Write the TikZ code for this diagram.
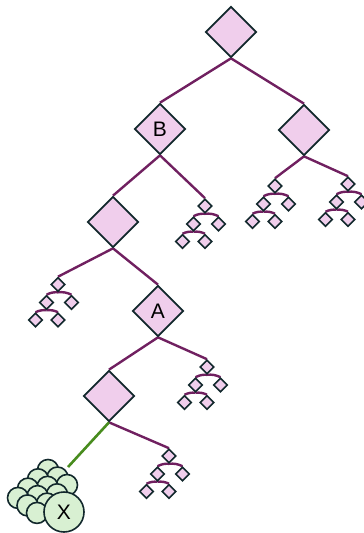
\documentclass[tikz,border=0pt]{standalone}
\usepackage{fontspec}
\setmainfont{Liberation Sans}
\usetikzlibrary{shapes.geometric,backgrounds}
\definecolor{branch}{RGB}{112,32,96}
\definecolor{petal}{RGB}{240,206,236}
\definecolor{rim}{RGB}{18,40,44}
\definecolor{stemgreen}{RGB}{72,140,30}
\definecolor{mint}{RGB}{216,240,210}

\begin{document}
\begin{tikzpicture}[x=1pt,y=-1pt,
			big/.style={diamond,draw=rim,fill=petal,line width=1.7pt,minimum size=51pt,inner sep=0pt,
				font=\fontsize{21}{21}\selectfont},
			leaf/.style={diamond,draw=rim,fill=petal,line width=1.6pt,minimum size=14pt,inner sep=0pt},
			link/.style={draw=branch,line width=2.4pt},
			stem/.style={draw=stemgreen,line width=2.6pt},
			cell/.style={circle,draw=rim,fill=mint,line width=1.6pt,minimum size=21pt,inner sep=0pt}
			]
		\useasboundingbox (0,0) rectangle (364,533);
		%\draw[step=10pt, color=gray] (0,0) grid (364,533);
		\node [big] (root) at (231,32) {};
		\node [big] (b) at (160,129) {B};
		\node [big] (r) at (304,130) {};
		\node [big] (c) at (113,222) {};
		\node [big] (a) at (158,311) {A};
		\node [big] (d) at (109,396) {};

		\begin{scope}[on background layer]
			\draw [link] (root.south) -- (b.north);
			\draw [link] (root.south) -- (r.north);
			\draw [link] (b.south) -- (c.north);
			\draw [link] (c.south) -- (a.north);
			\draw [link] (a.south) -- (d.north);
		\end{scope}

		% small subtrees
		\foreach \n/\x/\y/\p in {sb/205/206/b, sr1/275/186/r, sr2/348/184/r,
				sc/58/284.5/c, sa/207/367/a, sd/169/456/d} {
			\begin{scope}[shift={(\x,\y)}]
				\node [leaf] (\n) at (0,0) {};
				\node [leaf] (\n-l) at (-11.5,18) {};
				\node [leaf] (\n-r) at (13.5,18) {};
				\node [leaf] (\n-ll) at (-22.5,35.5) {};
				\node [leaf] (\n-lr) at (0,35.5) {};
			\end{scope}
			\begin{scope}[on background layer]
				\draw [link] (\p.south) -- (\n.north);
				\draw [link] (\n.south) to [bend right=15] (\n-l.north);
				\draw [link] (\n.south) to [bend left=15] (\n-r.north);
				\draw [link] (\n-l.south) to [bend right=15] (\n-ll.north);
				\draw [link] (\n-l.south) to [bend left=15] (\n-lr.north);
			\end{scope}
		}

		% collapsed forest
		\coordinate (tip) at (68,467);
		\foreach \i in {0,...,3}
			\foreach \j in {0,1,2}
				\node [cell] (f-\i-\j) at ({48-10*\i+9.5*\j},{470+9.3*\i+7.5*\j}) {};
		\node [cell, minimum size=40pt, font=\fontsize{21}{21}\selectfont] (x) at (64,512) {X};
		\begin{scope}[on background layer]
			\draw [stem] (d.south) -- (tip);
		\end{scope}
\end{tikzpicture}
\end{document}
